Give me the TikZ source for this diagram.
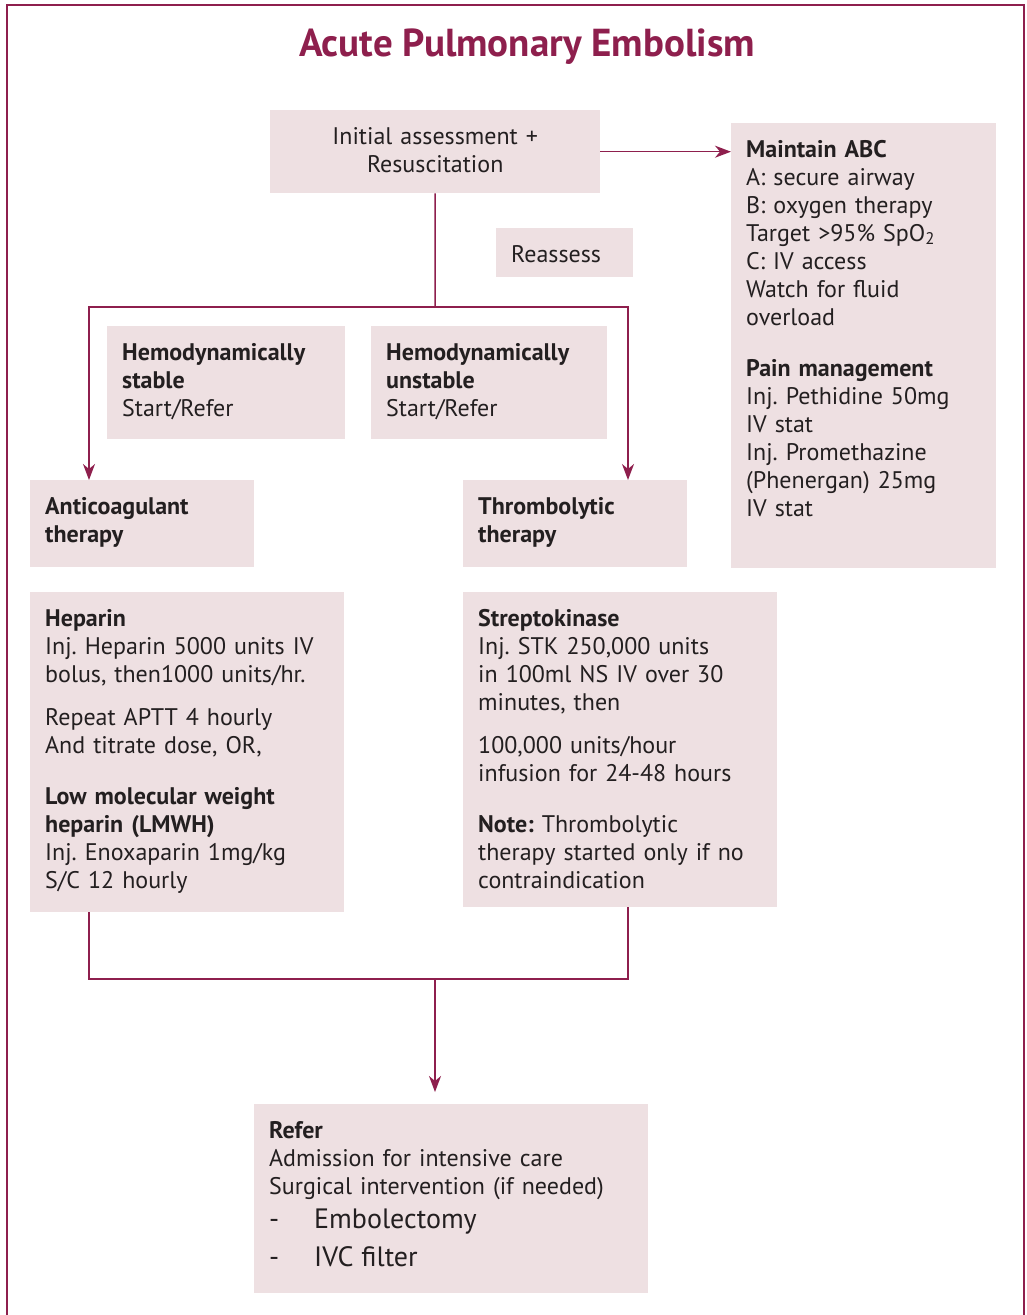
\documentclass[tikz,border=0pt]{standalone}
\usepackage{fontspec}
\setmainfont{PT Sans}
\usepackage{tikz}
\usetikzlibrary{arrows.meta}
\definecolor{maroon}{HTML}{8E1F4D}
\definecolor{boxpink}{HTML}{EEE0E2}
\definecolor{ink}{HTML}{231F20}
\frenchspacing

\begin{document}
\begin{tikzpicture}[x=1pt, y=-1pt,
    box/.style={fill=boxpink, anchor=north west, inner xsep=15pt, inner ysep=14pt,
      text height=20pt, align=left, text=ink, font=\fontsize{24}{28}\selectfont},
    heading/.style={text=maroon, font=\fontsize{39}{42}\selectfont\bfseries},
    link/.style={draw=maroon, line width=1.5pt},
    arr/.style={link, -{Stealth[length=16pt, width=12pt, inset=5pt]}},
    frame/.style={draw=maroon, line width=1.2pt}]
    \useasboundingbox (0,0) rectangle (1026,1315);
    \draw[frame] (7,1315) -- (7,5) -- (1024,5) -- (1024,1315);

    \node[heading] (title) at (527,47) {Acute Pulmonary Embolism};

    \node[box, align=center, text width=300pt, text depth=35pt] (init) at (270,110)
      {Initial assessment +\\Resuscitation};
    \node[box, text width=235pt, text depth=397pt] (abc) at (731,123)
      {\textbf{Maintain ABC}\\A: secure airway\\B: oxygen therapy\\
       Target >95\% SpO\textsubscript{2}\\C: IV access\\Watch for fluid\\overload\\[23pt]
       \textbf{Pain management}\\Inj. Pethidine 50mg\\IV stat\\Inj. Promethazine\\
       (Phenergan) 25mg\\IV stat};
    \node[box, text width=107pt, text depth=1pt] (reassess) at (496,228) {Reassess};

    \node[box, text width=208pt, text depth=65pt] (stable) at (107,326)
      {\textbf{Hemodynamically}\\\textbf{stable}\\Start/Refer};
    \node[box, text width=206pt, text depth=65pt] (unstable) at (371,326)
      {\textbf{Hemodynamically}\\\textbf{unstable}\\Start/Refer};

    \node[box, text width=194pt, text depth=39pt] (anti) at (30,480)
      {\textbf{Anticoagulant}\\\textbf{therapy}};
    \node[box, text width=194pt, text depth=39pt] (thrombo) at (463,480)
      {\textbf{Thrombolytic}\\\textbf{therapy}};

    \node[box, text width=284pt, text depth=272pt] (heparin) at (30,592)
      {\textbf{Heparin}\\Inj. Heparin 5000 units IV\\bolus, then1000 units/hr.\\[15pt]
       Repeat APTT 4 hourly\\And titrate dose, OR,\\[23pt]
       \textbf{Low molecular weight}\\\textbf{heparin (LMWH)}\\
       Inj. Enoxaparin 1mg/kg\\S/C 12 hourly};
    \node[box, text width=284pt, text depth=267pt] (strepto) at (463,592)
      {\textbf{Streptokinase}\\Inj. STK 250,000 units\\in 100ml NS IV over 30\\minutes, then\\[15pt]
       100,000 units/hour\\infusion for 24-48 hours\\[23pt]
       \textbf{Note:} Thrombolytic\\therapy started only if no\\contraindication};

    \node[box, text width=364pt, text depth=141pt] (refer) at (254,1104)
      {\textbf{Refer}\\Admission for intensive care\\Surgical intervention (if needed)\\[6pt]
       {\fontsize{28}{28}\selectfont\makebox[45pt][l]{-}Embolectomy}\\[10pt]
       {\fontsize{28}{28}\selectfont\makebox[45pt][l]{-}IVC filter}};

    \coordinate (split) at (435,307);
    \coordinate (join) at (435,979);

    \draw[arr] (init.east) -- (init.east -| abc.west);
    \draw[link] (init.south) -- (split);
    \draw[arr] (split) -| ([xshift=59pt]anti.north west);
    \draw[arr] (split) -| ([xshift=165pt]thrombo.north west);
    \draw[link] ([xshift=59pt]heparin.south west) |- (join);
    \draw[link] ([xshift=165pt]strepto.south west) |- (join);
    \draw[arr, shorten >=12pt] (join) -- (join |- refer.north);
\end{tikzpicture}
\end{document}
